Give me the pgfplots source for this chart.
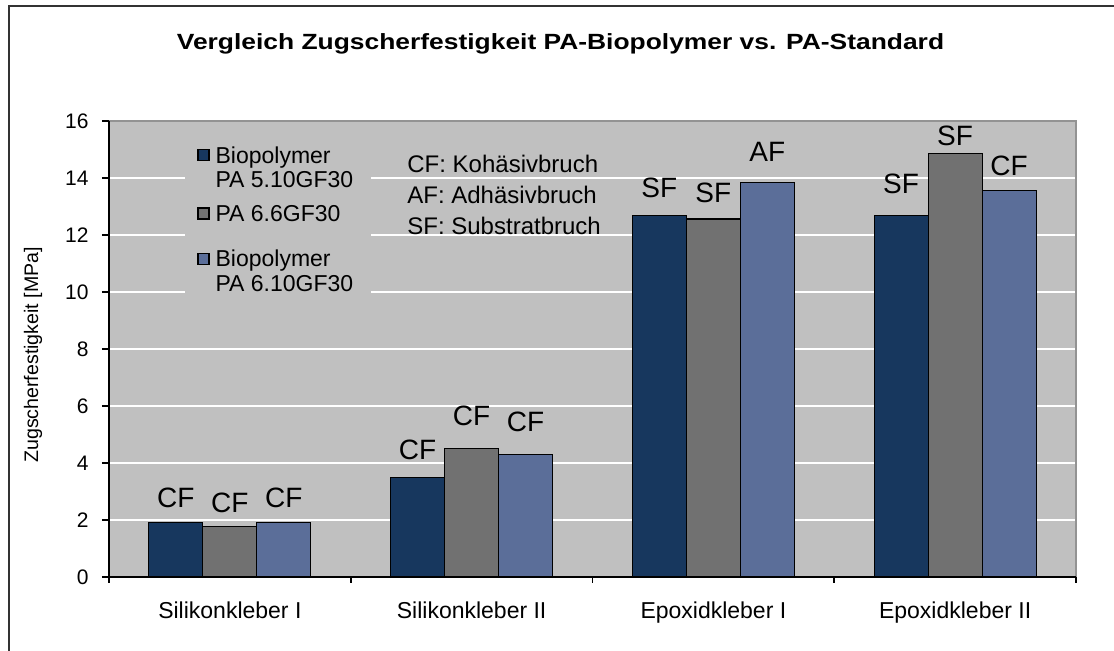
\documentclass[border=0pt]{standalone}
\usepackage{pgfplots}
\pgfplotsset{compat=1.18}
\usepackage{pgfplotstable}
\usepackage{fontspec}
\setmainfont{Liberation Sans}
\usepackage{graphicx}

\definecolor{cnavy}{HTML}{17375E}
\definecolor{cgray}{HTML}{717171}
\definecolor{clight}{HTML}{5B6E99}
\definecolor{cbg}{HTML}{C0C0C0}
\definecolor{cframe}{HTML}{333333}

\newcommand{\lbl}[2]{\raisebox{#1pt}{#2}}

\pgfplotstableread{
x y lab
0 1.90 \lbl{7.5}{CF}
1 3.48 \lbl{8.9}{CF}
2 12.67 \lbl{8.7}{SF}
3 12.67 \lbl{10.9}{SF}
}\tA
\pgfplotstableread{
x y lab
0 1.78 \lbl{6.4}{CF}
1 4.50 \lbl{11.5}{CF}
2 12.56 \lbl{7.8}{SF}
3 14.87 \lbl{3.7}{SF}
}\tB
\pgfplotstableread{
x y lab
0 1.90 \lbl{7.2}{CF}
1 4.31 \lbl{11.2}{CF}
2 13.84 \lbl{10.4}{AF}
3 13.57 \lbl{7.2}{CF}
}\tC

\newcommand{\fs}[1]{\fontsize{#1}{#1}\selectfont}

\pgfplotsset{
  mybar/.style={fill=#1, draw=black, line width=0.6pt,
    point meta=explicit symbolic,
    nodes near coords,
    nodes near coords style={font=\fs{14}, anchor=south, inner sep=0pt},
    legend image code/.code={\draw[fill=#1,draw=black,line width=0.6pt] (0pt,1.2pt) rectangle (5.5pt,6.7pt);}},
}

\begin{document}
\begin{tikzpicture}[x=1pt,y=1pt]
\useasboundingbox (0,0) rectangle (557,325.5);
\fill[white] (0,0) rectangle (557,325.5);
\draw[cframe, line width=1pt] (4.5,0) -- (4.5,322.5) -- (557,322.5);
\begin{axis}[
  at={(54.5pt,37pt)}, anchor=south west,
  scale only axis, width=483.5pt, height=228pt,
  xmin=-0.5, xmax=3.5, ymin=0, ymax=16,
  ytick={0,2,...,16},
  xtick={0,1,2,3},
  xticklabels={Silikonkleber I, Silikonkleber II, Epoxidkleber I, Epoxidkleber II},
  minor xtick={-0.5,0.5,1.5,2.5,3.5},
  tick align=outside, xtick pos=bottom, ytick pos=left,
  major tick length=3.5pt, minor tick length=3pt,
  tick style={black, line width=0.8pt},
  major x tick style={draw=none},
  axis line style={draw=none},
  axis background/.style={fill=cbg},
  ymajorgrids, major grid style={white, line width=1pt},
  clip=false,
  ybar=0pt, bar width=27pt,
  /pgf/number format/assume math mode=true,
  yticklabel style={font=\fs{10.5}, inner sep=0pt, xshift=-6.5pt},
  xticklabel style={font=\fs{11.5}, anchor=base, yshift=-17.5pt},
  ylabel={Zugscherfestigkeit [MPa]},
  every axis y label/.style={at={([xshift=-38pt]rel axis cs:0,0.487)}, rotate=90, anchor=center, font=\fs{9.8}},
  legend style={at={(0.0786,0.958)}, anchor=north west, fill=cbg, draw=none,
    inner xsep=6pt, inner ysep=3pt, font=\fs{11.5}, row sep=0pt, column sep=0pt,
    cells={anchor=base west}, nodes={inner xsep=3pt, inner ysep=0pt, text depth=}},
  after end axis/.code={
    \draw[gray!85, line width=0.6pt] (rel axis cs:0,1) -- (rel axis cs:1,1) -- (rel axis cs:1,0);
    \draw[black, line width=0.8pt] (rel axis cs:0,1) -- (rel axis cs:0,0) -- (rel axis cs:1,0);
  },
]
\addplot[mybar=cnavy] table[x=x,y=y,meta=lab]{\tA};
\addlegendentry{\rule[-4pt]{0pt}{10.5pt}Biopolymer}
\addlegendimage{empty legend}
\addlegendentry{\rule[-9pt]{0pt}{10.5pt}PA 5.10GF30}
\addplot[mybar=cgray] table[x=x,y=y,meta=lab]{\tB};
\addlegendentry{\rule[-4pt]{0pt}{10.5pt}PA 6.6GF30}
\addlegendimage{empty legend}
\addlegendentry{\rule[-9pt]{0pt}{10.5pt}\mbox{}}
\addplot[mybar=clight] table[x=x,y=y,meta=lab]{\tC};
\addlegendentry{\rule[-4pt]{0pt}{10.5pt}Biopolymer}
\addlegendimage{empty legend}
\addlegendentry{\rule[-4pt]{0pt}{10.5pt}PA 6.10GF30}
\end{axis}
\node[anchor=base west, inner sep=0pt, font=\fs{12}] at (203.5,239) {CF: Kohäsivbruch};
\node[anchor=base west, inner sep=0pt, font=\fs{12}] at (203.5,223.5) {AF: Adhäsivbruch};
\node[anchor=base west, inner sep=0pt, font=\fs{12}] at (203.5,208) {SF: Substratbruch};
\node[anchor=base, inner sep=0pt] at (280.25,300.5) {\scalebox{1.2}[1]{\fs{11}\bfseries Vergleich Zugscherfestigkeit PA-Biopolymer vs. PA-Standard}};
\end{tikzpicture}
\end{document}
